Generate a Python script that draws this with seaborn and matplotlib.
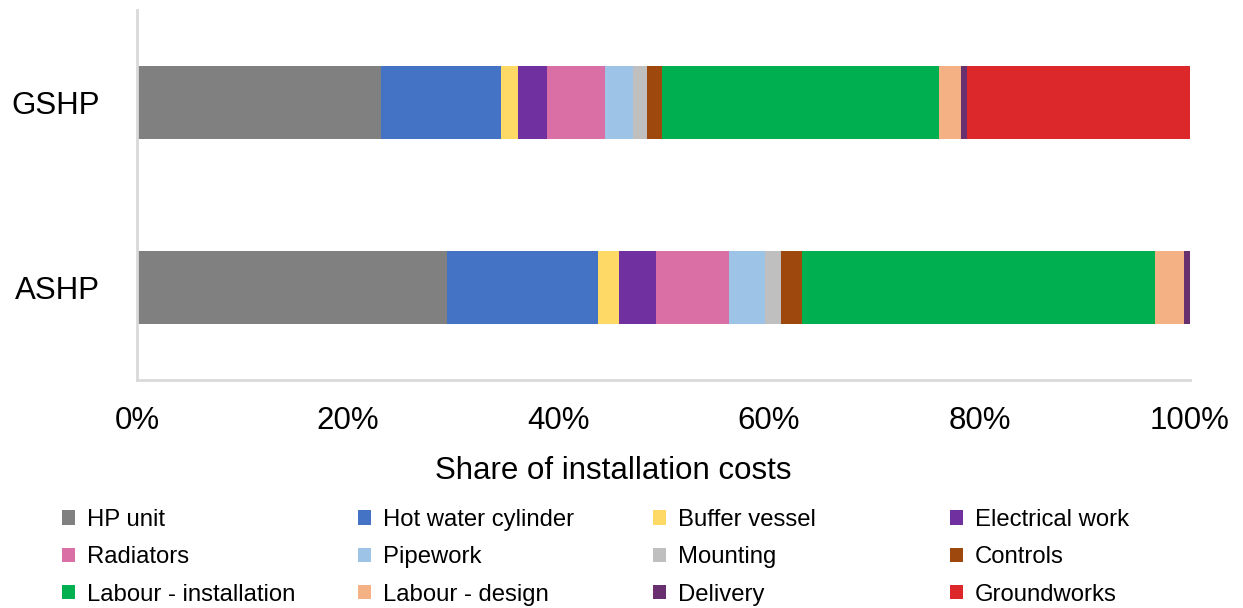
import matplotlib
matplotlib.use("Agg")
import matplotlib.pyplot as plt
from matplotlib.patches import Patch
from matplotlib.ticker import PercentFormatter, MultipleLocator
import pandas as pd
import seaborn as sns

# Heat pump types (top to bottom)
systems = ["GSHP", "ASHP"]

# Cost components in stacking order
components = [
    "HP unit", "Hot water cylinder", "Buffer vessel", "Electrical work",
    "Radiators", "Pipework", "Mounting", "Controls",
    "Labour - installation", "Labour - design", "Delivery", "Groundworks",
]

# Share of installation costs (%) per component
gshp_share = [23.2, 11.4, 1.6, 2.7, 5.5, 2.7, 1.3, 1.5, 26.3, 2.1, 0.5, 21.2]
ashp_share = [29.4, 14.4, 2.0, 3.5, 6.9, 3.4, 1.6, 2.0, 33.5, 2.7, 0.6, 0.0]

colors = [
    "#808080", "#4472C4", "#FFD966", "#7030A0",
    "#DA6FA6", "#9DC3E6", "#BFBFBF", "#9E480E",
    "#00B050", "#F4B183", "#68306E", "#DC282B",
]

sns.set_style("white")
plt.rcParams["font.family"] = ["Liberation Sans", "DejaVu Sans"]

df = pd.DataFrame({"GSHP": gshp_share, "ASHP": ashp_share}, index=components)
shares = df / df.sum(axis=0) * 100
cumulative = shares.cumsum(axis=0)

W, H = 1243, 608
fig = plt.figure(figsize=(W / 100, H / 100), dpi=100)
ax = fig.add_axes([137 / W, 1 - 380 / H, (1190 - 137) / W, 370 / H])

# Stacked bars: draw running totals from the last component back to the first
for comp, color in reversed(list(zip(components, colors))):
    seg = pd.DataFrame({"system": systems,
                        "total": [cumulative.loc[comp, s] for s in systems]})
    sns.barplot(data=seg, x="total", y="system", order=systems, orient="h",
                color=color, width=0.395, linewidth=0, saturation=1, ax=ax)

ax.set_xlim(0, 100)
ax.set_ylim(1.5, -0.5)
ax.xaxis.set_major_locator(MultipleLocator(20))
ax.xaxis.set_major_formatter(PercentFormatter(decimals=0))
ax.set_ylabel("")
ax.set_xlabel("Share of installation costs", fontsize=22.5, color="black")
ax.xaxis.label.set_va("center")
ax.xaxis.set_label_coords((613 - 137) / 1053, -(471 - 380) / 370)
ax.tick_params(axis="x", length=0, labelsize=22.5, pad=19, colors="black")
ax.tick_params(axis="y", length=0, labelsize=22.5, pad=27, colors="black")

for side in ("top", "right"):
    ax.spines[side].set_visible(False)
for side in ("left", "bottom"):
    ax.spines[side].set_color("#D9D9D9")
    ax.spines[side].set_linewidth(2)

# Legend: four columns, filled row by row
handles = [Patch(facecolor=c, edgecolor="none") for c in colors]
col_x = [62, 358, 653, 950]
for j in range(4):
    idx = [j, j + 4, j + 8]
    fig.legend([handles[i] for i in idx], [components[i] for i in idx],
               loc="upper left", bbox_to_anchor=(col_x[j] / W, 1 - 509 / H),
               frameon=False, fontsize=17.2, handlelength=0.545, handleheight=0.545,
               handletextpad=0.5, labelspacing=0.64, borderaxespad=0,
               borderpad=0, labelcolor="black")

fig.savefig("out.png", dpi=100)
